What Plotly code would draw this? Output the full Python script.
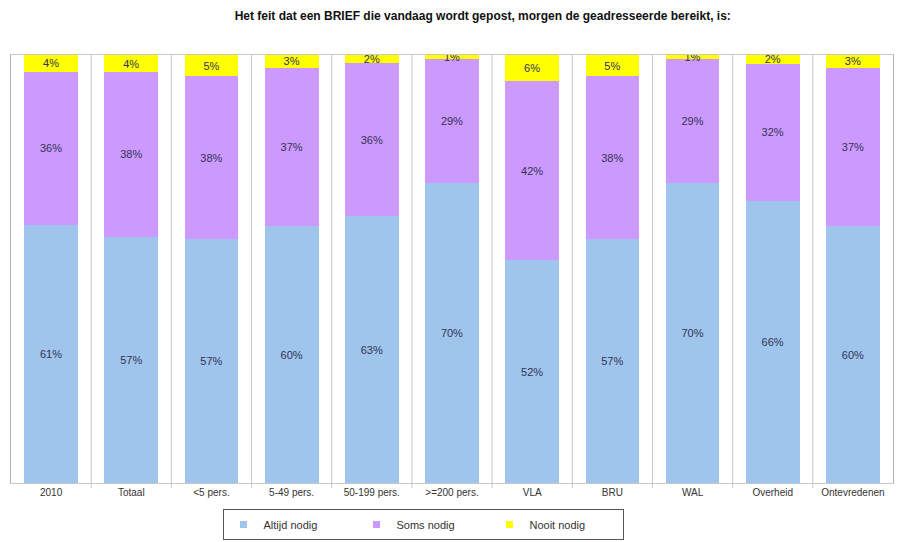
import plotly.graph_objects as go

categories = ["2010", "Totaal", "<5 pers.", "5-49 pers.", "50-199 pers.", ">=200 pers.",
              "VLA", "BRU", "WAL", "Overheid", "Ontevredenen"]
altijd = [61, 57, 57, 60, 63, 70, 52, 57, 70, 66, 60]
soms = [36, 38, 38, 37, 36, 29, 42, 38, 29, 32, 37]
nooit = [4, 4, 5, 3, 2, 1, 6, 5, 1, 2, 3]

series = [
    ("Altijd nodig", altijd, "#9FC5EC"),
    ("Soms nodig", soms, "#CC99FF"),
    ("Nooit nodig", nooit, "#FFFF00"),
]

fig = go.Figure()
for name, vals, color in series:
    fig.add_trace(go.Bar(
        x=categories, y=vals, name=name, showlegend=False,
        marker=dict(color=color, line=dict(width=0)),
        text=[f"{v}%" for v in vals], textposition="inside",
        insidetextanchor="middle", constraintext="none",
        textfont=dict(family="Liberation Sans, Arial", size=11, color="#333355"),
        width=0.67,
    ))
# legend entries with small square markers
for name, vals, color in series:
    fig.add_trace(go.Scatter(
        x=[None], y=[None], mode="markers", name=name,
        marker=dict(symbol="square", size=7, color=color),
    ))

shapes = []
for i in range(1, len(categories)):
    shapes.append(dict(type="line", xref="x", yref="paper", x0=i - 0.5, x1=i - 0.5,
                       y0=-0.012, y1=1, line=dict(color="#C8C8C8", width=1)))

fig.update_layout(
    barmode="stack", barnorm="percent",
    width=904, height=542,
    margin=dict(l=11, r=11, t=55, b=59),
    paper_bgcolor="white", plot_bgcolor="white",
    title=dict(text="<b>Het feit dat een BRIEF die vandaag wordt gepost, morgen de geadresseerde bereikt, is:</b>",
               x=0.534, xanchor="center", y=1 - 16 / 542, yanchor="middle",
               font=dict(family="Liberation Sans, Arial", size=12, color="#111111")),
    uniformtext=dict(minsize=11, mode="show"),
    xaxis=dict(showgrid=False, ticks="", tickfont=dict(family="Liberation Sans, Arial", size=10, color="#333333"),
               showline=True, linecolor="#C8C8C8", mirror=True, range=[-0.5, len(categories) - 0.5]),
    yaxis=dict(range=[0, 100], showticklabels=False, showgrid=False, zeroline=False,
               showline=True, linecolor="#A8B0C0", mirror=True),
    legend=dict(orientation="h", x=(228 + 618) / 2 / 904, xanchor="center",
                xref="container", yref="container",
                y=(542 - 540) / 542, yanchor="bottom",
                bordercolor="#555555", borderwidth=1, entrywidth=88, itemwidth=30,
                traceorder="normal", tracegroupgap=0,
                font=dict(family="Liberation Sans, Arial", size=11, color="#333333")),
    showlegend=True,
    shapes=shapes,
)

fig.write_html("out.html", config={"displayModeBar": False},
               post_script="document.body.style.margin='0';")
